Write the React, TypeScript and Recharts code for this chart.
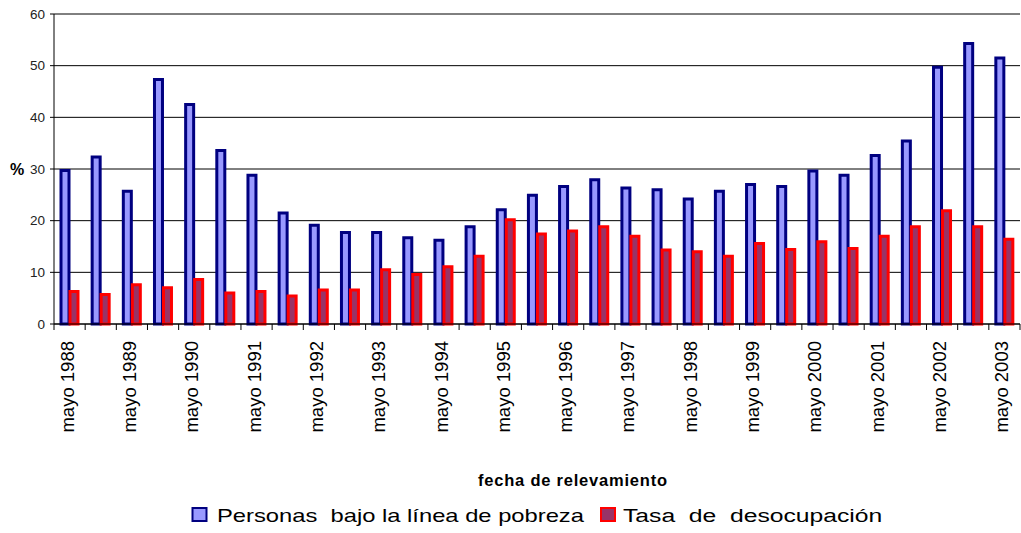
import React from "react";
import { BarChart, Bar, XAxis, YAxis, CartesianGrid, Legend } from "recharts";

const categories = [
  "mayo 1988", "oct. 1988", "mayo 1989", "oct. 1989", "mayo 1990", "oct. 1990",
  "mayo 1991", "oct. 1991", "mayo 1992", "oct. 1992", "mayo 1993", "oct. 1993",
  "mayo 1994", "oct. 1994", "mayo 1995", "oct. 1995", "mayo 1996", "oct. 1996",
  "mayo 1997", "oct. 1997", "mayo 1998", "oct. 1998", "mayo 1999", "oct. 1999",
  "mayo 2000", "oct. 2000", "mayo 2001", "oct. 2001", "mayo 2002", "oct. 2002",
  "mayo 2003",
];

const pobreza = [
  29.7, 32.3, 25.7, 47.3, 42.5, 33.6, 28.8, 21.5, 19.1, 17.7, 17.7, 16.7, 16.2,
  18.8, 22.1, 24.9, 26.6, 27.9, 26.3, 26.0, 24.2, 25.7, 27.0, 26.6, 29.6, 28.8,
  32.6, 35.4, 49.7, 54.3, 51.5,
];

const desocupacion = [
  6.3, 5.7, 7.6, 7.0, 8.6, 6.0, 6.3, 5.4, 6.6, 6.6, 10.5, 9.6, 11.1, 13.1, 20.2,
  17.4, 18.0, 18.8, 17.0, 14.3, 14.0, 13.1, 15.6, 14.4, 15.9, 14.6, 17.0, 18.8,
  21.9, 18.8, 16.4,
];

const yTicks = [0, 10, 20, 30, 40, 50, 60];

const seriesNames = ["Personas  bajo la línea de pobreza", "Tasa  de  desocupación"];
const xTitle = "fecha de relevamiento";
const yTitle = "%";

const data = categories.map((c, i) => ({
  fecha: c,
  pobreza: pobreza[i],
  desocupacion: desocupacion[i],
}));

const W = 1021;
const H = 533;
const PLOT_LEFT = 54;
const PLOT_RIGHT = 1;
const FONT = "'Liberation Sans', Arial, sans-serif";
const BW = (W - PLOT_LEFT - PLOT_RIGHT) / categories.length;

const XTick = (props: any) => {
  const { x, y, payload, index } = props;
  const i = index ?? payload.index;
  const last = i === categories.length - 1;
  return (
    <g>
      <line x1={x - BW / 2} x2={x - BW / 2} y1={y} y2={y + 6} stroke="#000" strokeWidth={1} />
      {last && <line x1={x + BW / 2} x2={x + BW / 2} y1={y} y2={y + 6} stroke="#000" strokeWidth={1} />}
      {i % 2 === 0 && (
        <text
          transform={`translate(${x + 4},${y + 17}) rotate(-90)`}
          textAnchor="end"
          fontSize={18.5}
          fontFamily={FONT}
          fill="#000"
        >
          {payload.value}
        </text>
      )}
    </g>
  );
};

const legendLayout = [
  { boxX: 192.5, textX: 217, scaleX: 1.25 },
  { boxX: 601, textX: 623, scaleX: 1.3 },
];

const LegendContent = (props: any) => {
  const { payload } = props;
  return (
    <svg width={W} height={38} style={{ display: "block" }}>
      {(payload || []).map((p: any, i: number) => {
        const L = legendLayout[i];
        if (!L) return null;
        const stroke = p.payload?.stroke ?? "#000";
        const fill = p.payload?.fill ?? p.color;
        return (
          <g key={i}>
            <rect x={L.boxX} y={13} width={14} height={13} fill={fill} stroke={stroke} strokeWidth={2} />
            <text
              transform={`translate(${L.textX},27) scale(${L.scaleX},1)`}
              fontSize={19}
              fontFamily={FONT}
              fill="#000"
              style={{ whiteSpace: "pre" }}
            >
              {p.value}
            </text>
          </g>
        );
      })}
    </svg>
  );
};

export default function App() {
  return (
    <div style={{ position: "absolute", left: 0, top: 0, width: W, height: H, background: "#fff" }}>
      <BarChart
        width={W}
        height={H}
        data={data}
        margin={{ top: 14, right: PLOT_RIGHT, bottom: 0, left: 0 }}
        barGap={1}
        style={{ fontFamily: FONT }}
      >
        <CartesianGrid vertical={false} stroke="#000" strokeWidth={1} />
        <XAxis
          dataKey="fecha"
          interval={0}
          height={209}
          tickLine={false}
          tickSize={0}
          tickMargin={0}
          axisLine={{ stroke: "#000", strokeWidth: 1 }}
          tick={<XTick />}
          label={(p: any) => {
            const vb = p.viewBox || { x: PLOT_LEFT, y: 324 };
            return (
              <text
                x={vb.x + 424}
                y={vb.y + 162}
                fontSize={16.5}
                fontWeight="bold"
                fontFamily={FONT}
                fill="#000"
                textLength={189}
                lengthAdjust="spacing"
              >
                {xTitle}
              </text>
            );
          }}
        />
        <YAxis
          width={PLOT_LEFT}
          domain={[0, 60]}
          ticks={yTicks}
          interval={0}
          tickSize={4}
          tickMargin={5}
          axisLine={{ stroke: "#000", strokeWidth: 1 }}
          tickLine={{ stroke: "#000" }}
          tick={{ fontSize: 13.5, fill: "#222", fontFamily: FONT }}
          label={(p: any) => {
            const vb = p.viewBox || { x: 0, y: 14, height: 310 };
            return (
              <text
                x={vb.x + 17}
                y={vb.y + vb.height / 2 + 6}
                textAnchor="middle"
                fontSize={16}
                fontWeight="bold"
                fontFamily={FONT}
                fill="#000"
              >
                {yTitle}
              </text>
            );
          }}
        />
        <Legend
          layout="horizontal"
          verticalAlign="middle"
          align="center"
          wrapperStyle={{ left: 0, top: 495, width: W, height: 38, margin: 0, padding: 0 }}
          content={<LegendContent />}
        />
        <Bar
          dataKey="pobreza"
          name={seriesNames[0]}
          fill="#9999FF"
          stroke="#000080"
          strokeWidth={3}
          barSize={8}
          isAnimationActive={false}
        />
        <Bar
          dataKey="desocupacion"
          name={seriesNames[1]}
          fill="#993366"
          stroke="#FF0000"
          strokeWidth={3}
          barSize={8}
          isAnimationActive={false}
        />
      </BarChart>
    </div>
  );
}
